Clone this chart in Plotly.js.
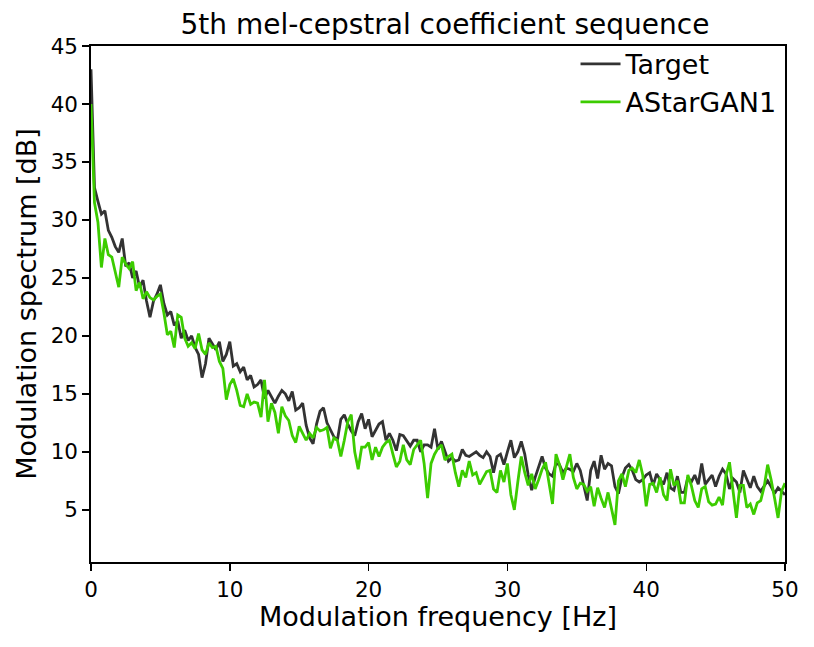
<!DOCTYPE html>
<html>
<head>
<meta charset="utf-8">
<script src="https://cdn.plot.ly/plotly-3.0.1.min.js"></script>
<style>html,body{margin:0;padding:0;background:#fff;}#chart{width:814px;height:647px;}</style>
</head>
<body>
<div id="chart"></div>
<script>
// Modulation frequency grid (Hz): first bin and bin spacing
const freqStart = 0;
const freqStep = 0.25;

// Modulation spectrum [dB], one value per 0.25 Hz bin (0..50 Hz)
const targetDb = [
  43.0, 32.8, 31.6, 30.5, 30.8, 29.1, 28.5, 27.7, 27.2, 28.4,
  26.0, 26.3, 25.0, 25.6, 24.2, 24.8, 23.0, 21.6, 23.0, 23.6,
  24.4, 22.8, 21.8, 22.1, 20.9, 21.3, 19.8, 20.5, 19.6, 20.0,
  19.0, 18.4, 16.4, 17.6, 19.8, 19.3, 18.8, 19.5, 17.8, 18.4,
  19.5, 17.4, 17.6, 16.9, 17.3, 16.2, 16.6, 15.6, 15.8, 16.2,
  14.6, 15.3, 14.8, 14.2, 14.8, 15.3, 15.0, 14.4, 15.2, 13.6,
  13.8, 14.2, 12.3, 11.2, 10.7, 12.4, 13.5, 13.8, 12.5, 11.9,
  11.3, 11.0, 12.8, 13.2, 12.4, 11.8, 11.4, 12.6, 13.3, 12.0,
  12.8, 11.3, 11.9, 12.4, 12.6, 11.0, 11.6, 11.0, 10.1, 11.5,
  11.4, 11.0, 10.5, 11.0, 11.0, 10.0, 10.6, 10.6, 10.4, 12.0,
  10.2, 10.9, 10.1, 9.2, 9.5, 9.2, 9.3, 10.2, 9.7, 9.6,
  9.8, 10.0, 9.7, 9.5, 10.0, 9.6, 8.2, 9.6, 9.8, 8.9,
  10.0, 11.0, 9.5, 10.0, 10.9, 9.8, 8.0, 6.7, 7.8, 8.8,
  9.6, 8.6, 8.1, 7.9, 9.0, 8.9, 8.2, 8.6, 8.5, 8.3,
  9.0, 8.4, 7.2, 5.8, 8.4, 9.2, 7.7, 9.7, 8.5, 9.0,
  8.8, 7.0, 6.4, 7.8, 8.6, 8.9, 8.4, 7.6, 7.4, 7.6,
  8.0, 8.2, 7.1, 8.1, 7.6, 7.2, 8.2, 6.9, 6.7, 7.9,
  6.5, 6.5, 7.8, 7.4, 8.0, 7.2, 9.0, 7.2, 7.6, 8.0,
  7.0, 7.9, 8.5, 8.1, 6.8, 7.7, 7.4, 6.5, 8.4, 7.6,
  6.9, 7.9, 7.0, 6.6, 7.0, 7.5, 7.0, 6.4, 6.9, 6.6,
  6.3
];

const astarganDb = [
  40.0, 31.5, 29.8, 25.9, 28.4, 27.0, 26.8, 25.5, 24.2, 26.8,
  26.2, 25.8, 26.4, 23.9, 24.6, 23.2, 23.8, 23.3, 23.1, 23.4,
  23.6, 22.0, 20.1, 20.4, 19.0, 21.8, 21.6, 19.8, 19.1, 19.4,
  18.9, 20.2, 18.8, 18.4, 19.4, 19.0, 19.1, 17.8, 17.2, 14.5,
  15.8, 16.3, 15.3, 14.0, 13.9, 15.0, 14.1, 14.3, 14.2, 13.0,
  16.2, 12.6, 14.2, 13.4, 11.6, 13.9, 13.1, 12.7, 11.4, 10.8,
  12.2, 11.6, 11.0, 11.6, 11.2, 12.1, 11.8, 11.9, 12.1, 10.3,
  11.2, 11.0, 9.6, 11.0, 12.6, 13.2, 10.0, 8.5, 10.4, 10.4,
  10.8, 9.3, 10.4, 9.6, 10.4, 10.8, 11.0, 9.8, 8.7, 9.2,
  10.6, 9.3, 8.9, 10.2, 10.6, 11.0, 9.0, 6.0, 9.0, 9.8,
  10.3, 10.6, 9.3, 9.6, 9.8, 8.2, 7.0, 8.4, 7.8, 9.2,
  8.0, 8.2, 7.2, 7.8, 8.3, 8.4, 6.8, 6.5, 8.4, 7.4,
  9.0, 6.3, 5.0, 7.4, 9.6, 8.2, 7.1, 8.1, 6.8, 7.6,
  8.5, 9.1, 7.4, 5.5, 9.8, 8.9, 7.6, 8.6, 9.8, 7.8,
  6.8, 7.3, 7.2, 6.6, 7.0, 5.3, 6.9, 6.0, 5.2, 6.5,
  5.0, 3.7, 7.5, 8.1, 7.0, 8.4, 8.6, 8.2, 9.3, 8.0,
  5.3, 7.2, 7.3, 6.5, 7.8, 6.3, 5.8, 8.5, 7.1, 7.5,
  5.6, 5.6, 8.0, 7.1, 5.8, 5.2, 6.8, 7.0, 5.7, 5.4,
  5.5, 6.1, 5.4, 8.0, 9.1, 6.5, 4.3, 7.1, 7.1, 5.2,
  5.5, 4.6, 5.6, 5.8, 7.0, 8.9, 7.6, 6.0, 4.3, 6.6,
  7.3
];

const seriesNames = ["Target", "AStarGAN1"];
const xTickVals = [0, 10, 20, 30, 40, 50];
const yTickVals = [5, 10, 15, 20, 25, 30, 35, 40, 45];

const font = "DejaVu Sans, Liberation Sans, sans-serif";

const traces = [
  {
    y: targetDb, x0: freqStart, dx: freqStep, type: "scatter", mode: "lines",
    name: seriesNames[0], line: {color: "#333333", width: 2.8}
  },
  {
    y: astarganDb, x0: freqStart, dx: freqStep, type: "scatter", mode: "lines",
    name: seriesNames[1], line: {color: "#3ccc00", width: 2.8}
  }
];

const axisCommon = {
  showline: true, mirror: true, linecolor: "#000", linewidth: 1.7,
  ticks: "outside", ticklen: 7, tickwidth: 1.4, tickcolor: "#000",
  showgrid: false, zeroline: false,
  tickfont: {family: font, size: 21.5, color: "#000"}
};

const layout = {
  width: 814, height: 647,
  margin: {l: 91, r: 29, t: 46, b: 85},
  paper_bgcolor: "#fff", plot_bgcolor: "#fff",
  font: {family: font, color: "#000"},
  title: {text: "5th mel-cepstral coefficient sequence", font: {family: font, size: 28, color: "#000"},
          x: 0.51, xanchor: "center", y: 0.962, yanchor: "middle", xref: "paper"},
  xaxis: Object.assign({}, axisCommon, {
    range: [0, 50], tickvals: xTickVals,
    title: {text: "Modulation frequency [Hz]", font: {family: font, size: 27, color: "#000"}, standoff: 6}
  }),
  yaxis: Object.assign({}, axisCommon, {
    range: [0.5, 45], tickvals: yTickVals,
    title: {text: "Modulation spectrum [dB]", font: {family: font, size: 27, color: "#000"}, standoff: 6}
  }),
  legend: {
    x: 0.995, xanchor: "right", y: 1.012, yanchor: "top",
    bgcolor: "rgba(0,0,0,0)", borderwidth: 0,
    font: {family: font, size: 27, color: "#000"},
    itemwidth: 40, tracegroupgap: 0
  },
  showlegend: true
};

Plotly.newPlot("chart", traces, layout, {staticPlot: true, displayModeBar: false});
</script>
</body>
</html>
